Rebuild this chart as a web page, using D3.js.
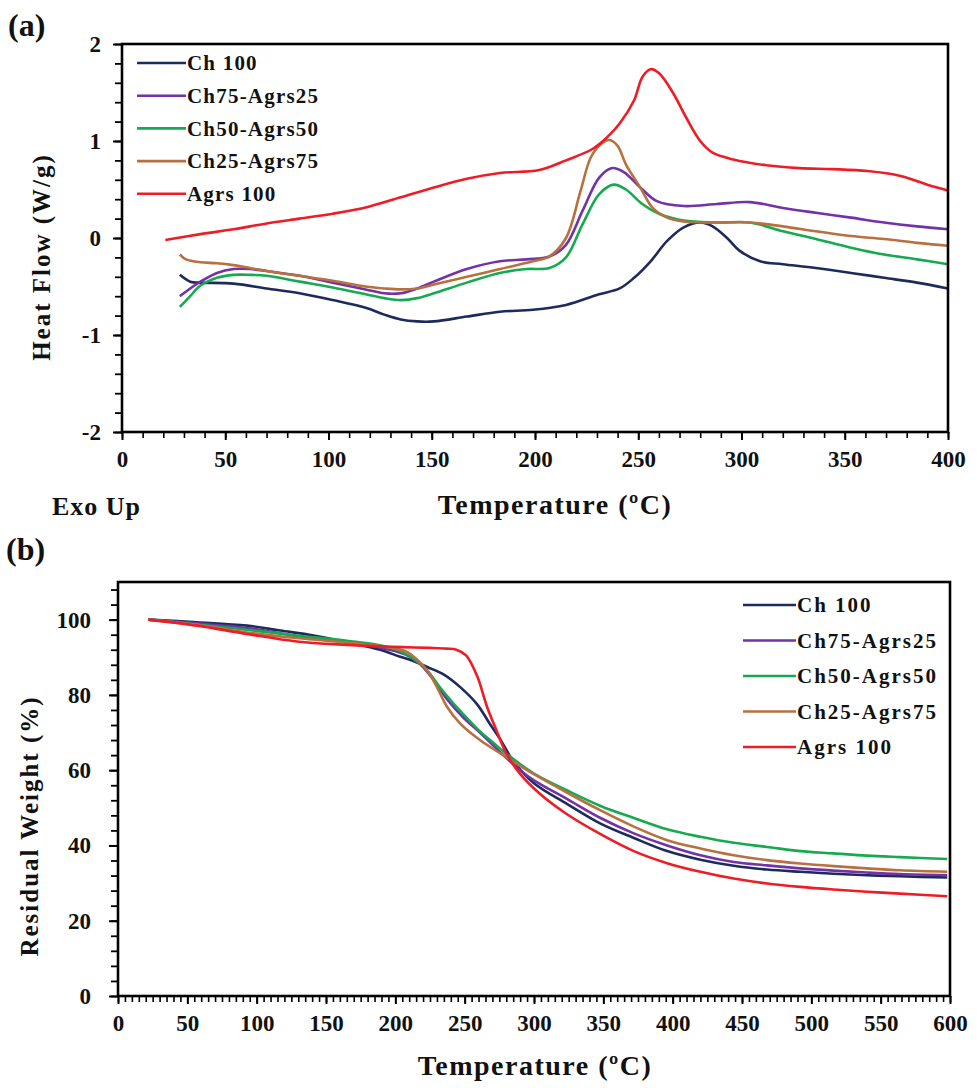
<!DOCTYPE html>
<html>
<head>
<meta charset="utf-8">
<script src="https://cdn.jsdelivr.net/npm/d3@7/dist/d3.min.js"></script>
<style>
  body { margin: 0; background: #fff; }
  svg text { font-family: "Liberation Serif", "Times New Roman", serif; font-weight: bold; fill: #111; }
</style>
</head>
<body>
<svg id="chart" width="977" height="1088"></svg>
<script>
// series names + colours
const seriesNames = ["Ch 100", "Ch75-Agrs25", "Ch50-Agrs50", "Ch25-Agrs75", "Agrs 100"];
const seriesColors = ["#1c2b5c", "#7232a8", "#16aa50", "#b8703f", "#ee1c25"];

// (a) DSC – temperature (°C) and heat flow (W/g)
const dscT_ch100 = [28, 33, 38, 54, 70, 86, 102, 118, 127, 135, 143, 151, 167, 183, 199, 215, 231, 241, 248, 256, 264, 272, 280, 286, 293, 299, 309, 320, 336, 353, 369, 385, 400];
const dscHF_ch100 = [-0.38, -0.45, -0.46, -0.47, -0.52, -0.57, -0.64, -0.72, -0.79, -0.84, -0.86, -0.86, -0.81, -0.76, -0.74, -0.69, -0.58, -0.52, -0.41, -0.24, -0.03, 0.11, 0.16, 0.12, 0.00, -0.13, -0.24, -0.27, -0.31, -0.36, -0.41, -0.46, -0.52];

const dscT_ch75 = [28, 33, 38, 46, 54, 62, 70, 86, 102, 118, 127, 135, 143, 151, 167, 183, 196, 207, 215, 223, 231, 237, 243, 251, 259, 272, 288, 304, 320, 336, 353, 369, 385, 400];
const dscHF_ch75 = [-0.60, -0.52, -0.45, -0.36, -0.32, -0.32, -0.34, -0.39, -0.46, -0.53, -0.57, -0.57, -0.52, -0.45, -0.32, -0.24, -0.22, -0.19, -0.07, 0.28, 0.62, 0.72, 0.68, 0.52, 0.38, 0.33, 0.35, 0.37, 0.31, 0.26, 0.21, 0.16, 0.12, 0.09];

const dscT_ch50 = [28, 33, 38, 46, 54, 62, 70, 86, 102, 118, 127, 135, 143, 151, 167, 183, 196, 207, 215, 223, 231, 238, 244, 252, 260, 272, 288, 304, 320, 336, 353, 369, 385, 400];
const dscHF_ch50 = [-0.71, -0.60, -0.49, -0.41, -0.38, -0.38, -0.39, -0.45, -0.51, -0.58, -0.62, -0.64, -0.62, -0.57, -0.46, -0.36, -0.32, -0.31, -0.20, 0.14, 0.45, 0.55, 0.50, 0.35, 0.25, 0.18, 0.16, 0.16, 0.07, -0.01, -0.10, -0.17, -0.22, -0.27];

const dscT_ch25 = [28, 31, 38, 46, 54, 62, 70, 86, 102, 118, 127, 135, 143, 151, 167, 183, 199, 207, 215, 222, 227, 232, 236, 240, 244, 251, 257, 264, 272, 288, 304, 320, 336, 353, 369, 385, 400];
const dscHF_ch25 = [-0.17, -0.22, -0.25, -0.26, -0.28, -0.31, -0.34, -0.39, -0.44, -0.50, -0.52, -0.53, -0.52, -0.48, -0.40, -0.32, -0.24, -0.19, 0.00, 0.48, 0.83, 0.97, 1.01, 0.95, 0.76, 0.52, 0.31, 0.21, 0.17, 0.16, 0.16, 0.12, 0.07, 0.02, -0.01, -0.05, -0.08];

const dscT_agrs = [21, 38, 54, 70, 86, 102, 119, 135, 151, 167, 183, 202, 215, 228, 235, 241, 248, 252, 256, 260, 267, 273, 280, 286, 296, 312, 328, 344, 361, 377, 390, 400];
const dscHF_agrs = [-0.02, 0.04, 0.09, 0.15, 0.20, 0.25, 0.32, 0.42, 0.52, 0.61, 0.67, 0.70, 0.80, 0.92, 1.04, 1.18, 1.42, 1.66, 1.74, 1.70, 1.49, 1.25, 1.00, 0.88, 0.81, 0.75, 0.72, 0.71, 0.69, 0.64, 0.55, 0.49];

// (b) TGA – temperature (°C) and residual weight (%)
const tgaT_ch100 = [22, 57, 93, 117, 141, 165, 189, 203, 213, 223, 235, 247, 259, 268, 276, 285, 300, 324, 348, 372, 396, 420, 444, 468, 492, 516, 540, 564, 598];
const tgaW_ch100 = [100, 99.3, 98.4, 97.1, 95.8, 94.0, 92.0, 90.2, 89.0, 87.4, 85.4, 82.0, 77.5, 72.4, 68.0, 62.5, 56.5, 51.0, 45.8, 42.0, 38.5, 36.2, 34.6, 33.6, 33.0, 32.5, 32.1, 31.8, 31.5];

const tgaT_ch75 = [22, 57, 93, 129, 165, 189, 207, 217, 227, 237, 249, 261, 275, 290, 300, 324, 348, 372, 396, 420, 444, 468, 492, 516, 540, 564, 598];
const tgaW_ch75 = [100, 99.0, 97.8, 95.6, 94.0, 92.6, 90.8, 88.5, 84.3, 79.0, 74.0, 70.0, 65.0, 60.0, 57.3, 52.3, 47.3, 43.2, 40.0, 37.4, 35.6, 34.7, 33.9, 33.3, 32.8, 32.4, 32.1];

const tgaT_ch50 = [22, 57, 93, 129, 165, 189, 204, 215, 223, 232, 242, 251, 261, 270, 280, 300, 324, 348, 372, 396, 420, 444, 468, 492, 516, 540, 564, 598];
const tgaW_ch50 = [100, 98.7, 97.3, 95.8, 94.4, 93.2, 91.5, 89.1, 86.5, 82.1, 77.7, 74.1, 70.3, 67.5, 64.4, 59.1, 54.6, 50.5, 47.3, 44.3, 42.3, 40.7, 39.6, 38.5, 37.9, 37.3, 36.9, 36.4];

const tgaT_ch25 = [22, 57, 93, 129, 165, 189, 208, 215, 223, 230, 237, 247, 261, 276, 295, 324, 348, 372, 396, 420, 444, 468, 492, 516, 540, 564, 598];
const tgaW_ch25 = [100, 98.6, 96.6, 95.1, 93.9, 93.0, 91.5, 89.6, 86.5, 82.1, 77.0, 72.3, 68.0, 64.4, 60.0, 54.0, 49.3, 45.0, 41.4, 39.2, 37.4, 36.1, 35.2, 34.5, 33.9, 33.4, 33.0];

const tgaT_agrs = [22, 57, 93, 129, 165, 189, 205, 225, 237, 244, 251, 259, 266, 273, 280, 290, 304, 323, 348, 372, 396, 420, 444, 468, 492, 516, 540, 564, 598];
const tgaW_agrs = [100, 98.4, 96.2, 94.2, 93.3, 92.9, 92.7, 92.5, 92.3, 92.0, 90.5, 85.0, 77.0, 70.5, 64.5, 59.0, 53.8, 48.5, 43.0, 38.5, 35.3, 33.0, 31.2, 29.9, 29.0, 28.3, 27.7, 27.2, 26.5];

const zip = (xs, ys) => xs.map((x, i) => ({ x: x, y: ys[i] }));

const dscSeries = [
  zip(dscT_ch100, dscHF_ch100),
  zip(dscT_ch75, dscHF_ch75),
  zip(dscT_ch50, dscHF_ch50),
  zip(dscT_ch25, dscHF_ch25),
  zip(dscT_agrs, dscHF_agrs)
];
const tgaSeries = [
  zip(tgaT_ch100, tgaW_ch100),
  zip(tgaT_ch75, tgaW_ch75),
  zip(tgaT_ch50, tgaW_ch50),
  zip(tgaT_ch25, tgaW_ch25),
  zip(tgaT_agrs, tgaW_agrs)
];

const svg = d3.select("#chart");

function drawPanel(o) {
  const g = svg.append("g");
  const x = d3.scaleLinear().domain(o.xDomain).range([o.left, o.right]);
  const y = d3.scaleLinear().domain(o.yDomain).range([o.bottom, o.top]);

  // minor ticks
  g.append("g")
    .attr("transform", `translate(0,${o.bottom})`)
    .call(d3.axisBottom(x).tickValues(d3.range(o.xDomain[0], o.xDomain[1] + 0.001, o.xMinor)).tickSize(6).tickFormat(""))
    .call(a => a.select(".domain").remove())
    .call(a => a.selectAll("line").attr("stroke", "#000").attr("stroke-width", 1.6));
  g.append("g")
    .attr("transform", `translate(${o.left},0)`)
    .call(d3.axisLeft(y).tickValues(d3.range(o.yDomain[0], o.yDomain[1] + 0.001, o.yMinor)).tickSize(7).tickFormat(""))
    .call(a => a.select(".domain").remove())
    .call(a => a.selectAll("line").attr("stroke", "#000").attr("stroke-width", 1.8));

  // major ticks + labels
  g.append("g")
    .attr("transform", `translate(0,${o.bottom})`)
    .call(d3.axisBottom(x).tickValues(o.xTicks).tickSize(8).tickPadding(11).tickFormat(d => String(d)))
    .call(a => a.select(".domain").remove())
    .call(a => a.selectAll("line").attr("stroke", "#000").attr("stroke-width", 2))
    .call(a => a.selectAll("text").style("font-size", "23px").attr("fill", "#111"));
  g.append("g")
    .attr("transform", `translate(${o.left},0)`)
    .call(d3.axisLeft(y).tickValues(o.yTicks).tickSize(9).tickPadding(o.yPad).tickFormat(d => String(d)))
    .call(a => a.select(".domain").remove())
    .call(a => a.selectAll("line").attr("stroke", "#000").attr("stroke-width", 2))
    .call(a => a.selectAll("text").style("font-size", "23px").attr("fill", "#111"));

  // curves
  const line = d3.line().x(d => x(d.x)).y(d => y(d.y)).curve(d3.curveCatmullRom.alpha(0.5));
  g.selectAll("path.series")
    .data(o.series)
    .join("path")
    .attr("class", "series")
    .attr("d", line)
    .attr("fill", "none")
    .attr("stroke", (d, i) => seriesColors[i])
    .attr("stroke-width", 2.6);

  // frame
  g.append("rect")
    .attr("x", o.left).attr("y", o.top)
    .attr("width", o.right - o.left).attr("height", o.bottom - o.top)
    .attr("fill", "none").attr("stroke", "#000").attr("stroke-width", 2.6);

  // legend
  const lg = g.append("g");
  seriesNames.forEach((name, i) => {
    const yy = o.legY + i * o.legStep;
    lg.append("line")
      .attr("x1", o.legX).attr("x2", o.legX + o.legLen)
      .attr("y1", yy).attr("y2", yy)
      .attr("stroke", seriesColors[i]).attr("stroke-width", 2.6);
    lg.append("text")
      .attr("x", o.legX + o.legLen + 1).attr("y", yy)
      .attr("dy", "0.35em")
      .style("font-size", "21px")
      .style("letter-spacing", o.legSpacing + "px")
      .text(name);
  });

  // axis titles
  g.append("text")
    .attr("x", o.xTitleX).attr("y", o.xTitleY)
    .attr("text-anchor", "middle")
    .style("font-size", "28px")
    .style("letter-spacing", "1.5px")
    .text("Temperature (ºC)");
  g.append("text")
    .attr("transform", `translate(${o.yTitleX},${o.yTitleY}) rotate(-90)`)
    .attr("text-anchor", "middle")
    .style("font-size", "25px")
    .style("letter-spacing", "2px")
    .text(o.yTitle);

  g.append("text")
    .attr("x", o.tagX).attr("y", o.tagY)
    .style("font-size", "32px")
    .text(o.tag);
}

drawPanel({
  series: dscSeries,
  xDomain: [0, 400], yDomain: [-2, 2],
  left: 122, right: 948, top: 44, bottom: 432,
  xTicks: d3.range(0, 401, 50), yTicks: [-2, -1, 0, 1, 2],
  xMinor: 10, yMinor: 0.2, yPad: 12,
  legX: 137, legY: 63, legStep: 32.7, legLen: 49, legSpacing: 1.2,
  xTitleX: 555, xTitleY: 514,
  yTitleX: 50, yTitleY: 257, yTitle: "Heat Flow (W/g)",
  tagX: 8, tagY: 36, tag: "(a)"
});

drawPanel({
  series: tgaSeries,
  xDomain: [0, 600], yDomain: [0, 110],
  left: 118, right: 950, top: 582, bottom: 996,
  xTicks: d3.range(0, 601, 50), yTicks: [0, 20, 40, 60, 80, 100],
  xMinor: 5, yMinor: 4, yPad: 18,
  legX: 743, legY: 605, legStep: 35.5, legLen: 53, legSpacing: 2,
  xTitleX: 535, xTitleY: 1075,
  yTitleX: 38, yTitleY: 826, yTitle: "Residual Weight (%)",
  tagX: 6, tagY: 560, tag: "(b)"
});

svg.append("text")
  .attr("x", 52).attr("y", 515)
  .style("font-size", "26px")
  .style("letter-spacing", "1px")
  .text("Exo Up");
</script>
</body>
</html>
